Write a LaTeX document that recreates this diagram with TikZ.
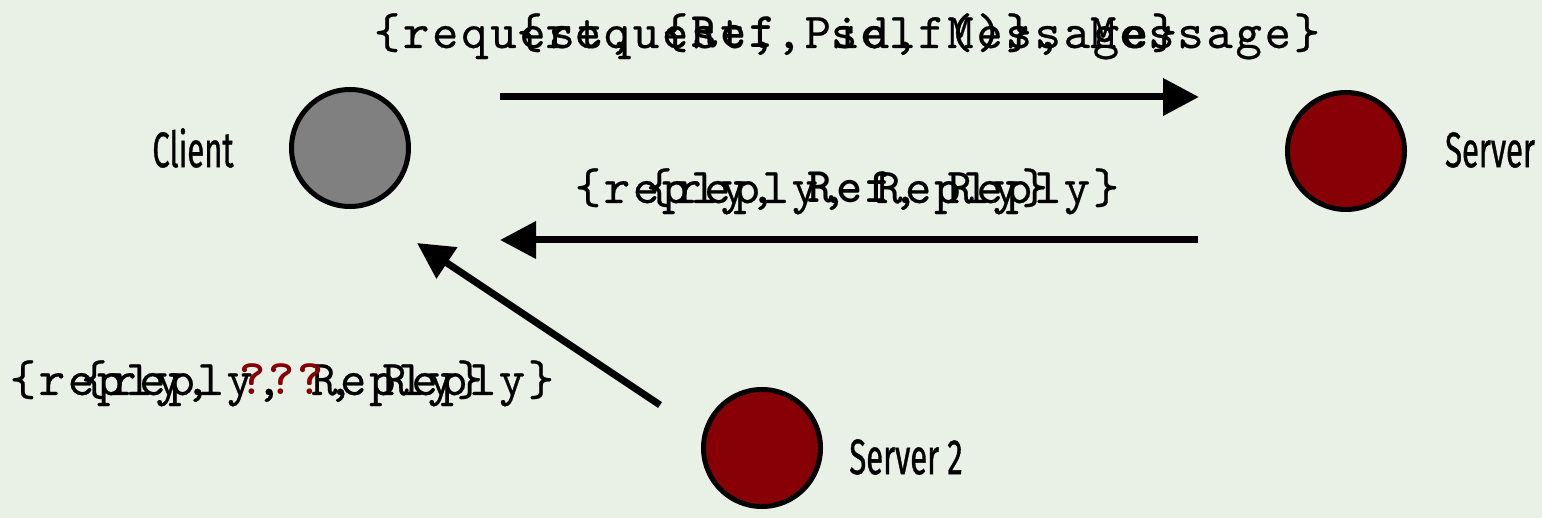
\documentclass[tikz,border=0pt]{standalone}
\usepackage{fontspec}
\setsansfont[FakeStretch=0.62, FakeBold=0.7]{Fira Sans}
\newfontfamily\msgfont[Extension=.otf, LetterSpace=5.7, UprightFeatures={FakeBold=0.5}, BoldFont=lmmonolt10-bold]{lmmono10-regular}
\usepackage{tikz}
\usetikzlibrary{arrows.meta, positioning}
\definecolor{slidebg}{RGB}{233,240,230}
\definecolor{serverred}{RGB}{134,0,6}
\definecolor{clientgray}{RGB}{128,128,128}
\tikzset{every picture/.style={/utils/exec={\sffamily}}}
\tikzset{
  process/.style={circle, draw=black, line width=5pt, minimum size=117pt, inner sep=0pt},
  procname/.style={font=\fontsize{50}{60}\selectfont, inner sep=0pt},
  msg/.style={font=\msgfont\fontsize{50}{56}\selectfont, anchor=base, inner sep=0pt}
}
\newcommand{\refkey}{\textbf{Ref}}
\newcommand{\unknownkey}{\textcolor{serverred}{\textbf{???}}}

\begin{document}
\begin{tikzpicture}[x=1pt, y=-1pt, line width=7pt, >={Triangle[length=36pt, width=36pt]}]
        \fill[slidebg] (0,0) rectangle (1542,518);
        \useasboundingbox (0,0) rectangle (1542,518);

        % Processes
        \node[process, fill=clientgray] (client) at (350,148) {};
        \node[process, fill=serverred] (server) at (1346,151) {};
        \node[process, fill=serverred] (server2) at (762,448) {};
        \node[procname] (clientname) at (193,148) {Client};
        \node[procname] (servername) at (1490,150) {Server};
        \node[procname] (server2name) at (906,457) {Server 2};

        % Arrow ends
        \coordinate (reqfrom) at (500,97);
        \coordinate (reqto) at (1199,97);
        \coordinate (replyfrom) at (1198,240);
        \coordinate (replyto) at (500,240);
        \coordinate (strayfrom) at (660,405);
        \coordinate (strayto) at (417,243);

        % Messages (old and new versions on top of each other)
        \node[msg] (request) at (847,48) {\{request, Pid, Message\}};
        \node[msg] (requestref) at (847,48) {\{request, \{\refkey, self()\}, Message\}};
        \node[msg] (reply) at (847,203) {\{reply, Reply\}};
        \node[msg] (replyref) at (847,203) {\{reply, \refkey, Reply\}};
        \node[msg] (strayreply) at (282,395) {\{reply, Reply\}};
        \node[msg] (strayreplyref) at (282,395) {\{reply, \unknownkey, Reply\}};

        % Directed edges
        \draw[->] (reqfrom) -- (reqto);
        \draw[->] (replyfrom) -- (replyto);
        \draw[->] (strayfrom) -- (strayto);
    \end{tikzpicture}
\end{document}
